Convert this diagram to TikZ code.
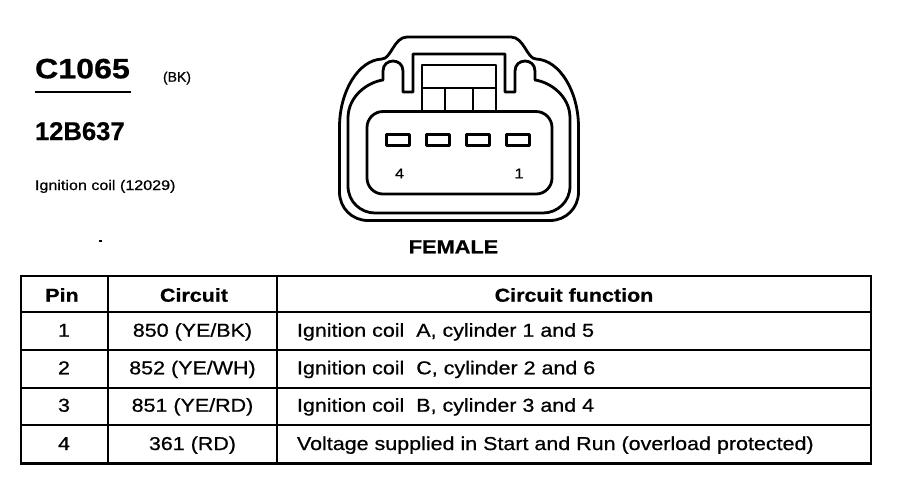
\documentclass[tikz,border=0pt]{standalone}
\usepackage{fontspec}
\newfontfamily\fA[FakeStretch=1.15,FakeBold=0.7]{Liberation Sans}
\newfontfamily\fN[FakeBold=0.7]{Liberation Sans}
\begin{document}
\begin{tikzpicture}[x=0.75pt,y=-0.75pt,
  txt/.style={inner sep=0pt, outer sep=0pt},
  wall/.style={line width=2.1pt, line join=round},
  grid/.style={line width=2.2pt},
  cell/.style={txt, anchor=base, font=\fA\fontsize{14}{16}\selectfont},
  fcell/.style={txt, anchor=base west, font=\fA\fontsize{14}{16}\selectfont},
  head/.style={txt, anchor=base, font=\fA\bfseries\fontsize{14}{16}\selectfont},
  pinbox/.style={wall}]
\useasboundingbox (0,0) rectangle (902,480);

% ---- header texts
\node[txt, anchor=base west, font=\fA\bfseries\fontsize{21}{24}\selectfont] (c1065) at (35,78.3) {C1065};
\draw[line width=1.6pt] (35,92) -- (131,92);
\node[txt, anchor=base west, font=\fN\fontsize{10.5}{12}\selectfont] (bk) at (163,81.7) {(BK)};
\node[txt, anchor=base west, font=\fN\bfseries\fontsize{19.2}{22}\selectfont] (part) at (35,140) {12B637};
\node[txt, anchor=base west, font=\fA\fontsize{10.5}{12}\selectfont] (desc) at (35,190) {Ignition coil (12029)};
\fill (98.5,240) rectangle (101.5,242);

% ---- connector face
\draw[wall] (407,37) -- (511,37) .. controls (524,37) and (527,59) .. (536,59)
  .. controls (560,60) and (578.5,92) .. (578.5,127) -- (578.5,192)
  .. controls (578.5,208) and (566,220.5) .. (550,220.5) -- (368,220.5)
  .. controls (352,220.5) and (339.5,208) .. (339.5,192) -- (339.5,127)
  .. controls (339.5,92) and (358,60) .. (382,59)
  .. controls (391,59) and (394,37) .. (407,37) -- cycle;
\draw[wall] (413,54) -- (505,54) -- (505,92) -- (515,92) -- (515,71)
  .. controls (515,57.7) and (535,57.7) .. (535,71) -- (535,80)
  .. controls (550,82) and (570,96) .. (570,118) -- (570,186)
  .. controls (570,202) and (557,213) .. (543,213) -- (375,213)
  .. controls (361,213) and (348,202) .. (348,186) -- (348,118)
  .. controls (348,96) and (368,82) .. (383,80) -- (383,71)
  .. controls (383,57.7) and (403,57.7) .. (403,71) -- (403,92) -- (413,92) -- cycle;
\draw[wall] (422,111) -- (422,65) -- (496,65) -- (496,111);
\draw[wall] (422,88) -- (496,88);
\draw[wall] (445,88) -- (445,111);
\draw[wall] (473,88) -- (473,111);
\draw[wall, rounded corners=12pt] (367,111.5) rectangle (552,194);
\foreach \px in {398,438,478,518}
  \draw[pinbox] (\px-11.5,134.5) rectangle (\px+11.5,145.5);
\node[txt, anchor=base, font=\fA\fontsize{10.5}{12}\selectfont] (p4) at (399.5,178.3) {4};
\node[txt, anchor=base, font=\fA\fontsize{10.5}{12}\selectfont] (p1) at (519,178.3) {1};
\node[txt, anchor=base, font=\fA\bfseries\fontsize{14.2}{16}\selectfont] (female) at (453.5,253.3) {FEMALE};

% ---- table
\draw[grid] (21,276) rectangle (871,463.5);
\foreach \yy in {312,350,388,425}
  \draw[grid] (21,\yy) -- (871,\yy);
\draw[grid] (108,276) -- (108,463.5);
\draw[grid] (277,276) -- (277,463.5);

\node[head] (hpin) at (62,301.7) {Pin};
\node[head] (hcir) at (194,301.7) {Circuit};
\node[head] (hfun) at (574,301.7) {Circuit function};

\node[cell] (r1p) at (64,336.7) {1};
\node[cell] (r1c) at (192.5,336.7) {850 (YE/BK)};
\node[fcell] (r1f) at (297,336.7) {Ignition coil\ \ A, cylinder 1 and 5};

\node[cell] (r2p) at (64,374.3) {2};
\node[cell] (r2c) at (192.5,374.3) {852 (YE/WH)};
\node[fcell] (r2f) at (297,374.3) {Ignition coil\ \ C, cylinder 2 and 6};

\node[cell] (r3p) at (64,411.7) {3};
\node[cell] (r3c) at (192.5,411.7) {851 (YE/RD)};
\node[fcell] (r3f) at (297,411.7) {Ignition coil\ \ B, cylinder 3 and 4};

\node[cell] (r4p) at (64,450) {4};
\node[cell] (r4c) at (192.5,450) {361 (RD)};
\node[fcell] (r4f) at (297,450) {Voltage supplied in Start and Run (overload protected)};
\end{tikzpicture}
\end{document}
